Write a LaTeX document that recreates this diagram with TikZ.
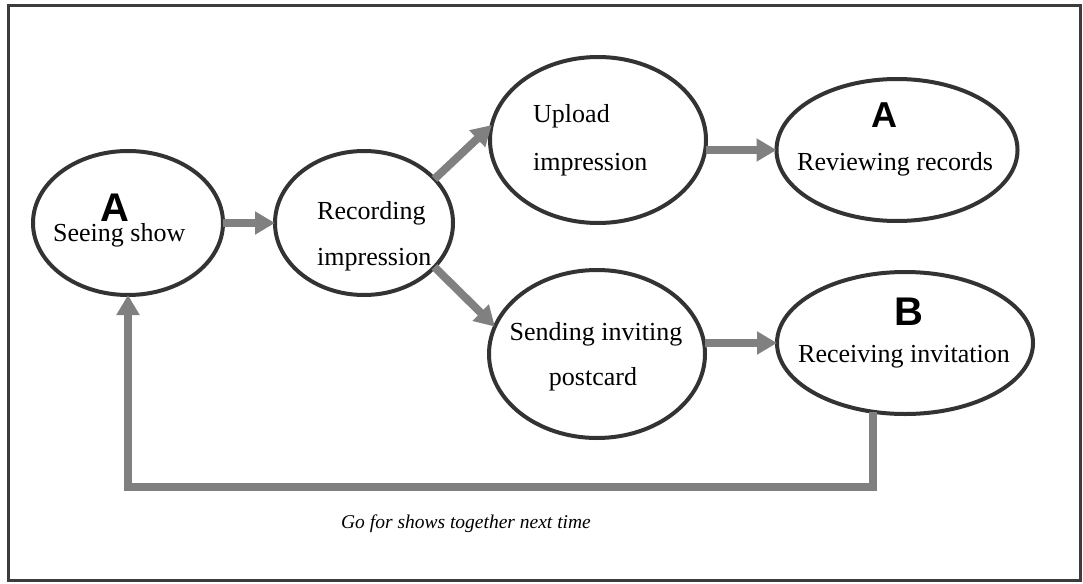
\documentclass[tikz,border=0pt]{standalone}
\usepackage{fontspec}
\setmainfont{Liberation Serif}
\newfontfamily\headfont{Liberation Sans}
\usetikzlibrary{shapes.geometric,arrows.meta}

\definecolor{rim}{HTML}{333333}
\definecolor{flow}{HTML}{808080}
\definecolor{frameline}{HTML}{3C3C3C}

\tikzset{
  stage/.style={ellipse, draw=rim, line width=4pt, fill=white,
                inner sep=0pt, outer sep=0pt},
  caption/.style={font=\fontsize{26}{30}\selectfont, inner sep=0pt},
  role/.style={font=\headfont\bfseries\fontsize{40}{44}\selectfont, inner sep=0pt},
  flowarrow/.style={draw=flow, line width=8pt,
                    -{Triangle[width=22pt 0 0,length=20pt 0 0]}},
}

\begin{document}
\begin{tikzpicture}[x=1pt,y=-1pt]
\useasboundingbox (0,0) rectangle (1083,583);
\draw[frameline, line width=3pt] (8,6) rectangle (1080,580);

% stages
\node[stage, minimum width=190pt, minimum height=144pt] (e1) at (128,223) {};
\node[stage, minimum width=178pt, minimum height=144pt] (e2) at (364,223) {};
\node[stage, minimum width=216pt, minimum height=166pt] (e3) at (598,140) {};
\node[stage, minimum width=241pt, minimum height=142pt] (e4) at (897,150) {};
\node[stage, minimum width=216pt, minimum height=168pt] (e5) at (597,354) {};
\node[stage, minimum width=256pt, minimum height=142pt] (e6) at (905,343) {};

% labels
\node[role, anchor=base] (r1) at (115,221) {A};
\node[caption, anchor=base west] (t1) at (53,241) {Seeing show};

\node[caption, anchor=base west] (t2a) at (317,219) {Recording};
\node[caption, anchor=base west] (t2b) at (317,265) {impression};

\node[caption, anchor=base west] (t3a) at (533,123) {Upload};
\node[caption, anchor=base west] (t3b) at (533,170) {impression};

\node[role, font=\headfont\bfseries\fontsize{36}{40}\selectfont, anchor=base] (r4) at (884,128) {A};
\node[caption, anchor=base west] (t4) at (797,170) {Reviewing records};

\node[caption, anchor=base] (t5a) at (596,340) {Sending inviting};
\node[caption, anchor=base] (t5b) at (593,385) {postcard};

\node[role, anchor=base] (r6) at (909,325) {B};
\node[caption, anchor=base west] (t6) at (798,362) {Receiving invitation};

\node[font=\itshape\fontsize{19.5}{23}\selectfont, inner sep=0pt, anchor=base] (note) at (466,528)
  {Go for shows together next time};

% flow
\draw[flowarrow] (e1.east) -- (e2.west);
\draw[flowarrow] (e2.32) -- (e3.172);
\draw[flowarrow] (e2.-32) -- (e5.165);
\draw[flowarrow] (e4.west -| e3.east) -- (e4.west);
\draw[flowarrow] (e6.west -| e5.east) -- (e6.west);

% return path
\coordinate (turn) at (873,487);
\draw[flowarrow] (e6.-114 -| turn) -- (turn) -| (e1.south);
\end{tikzpicture}
\end{document}
